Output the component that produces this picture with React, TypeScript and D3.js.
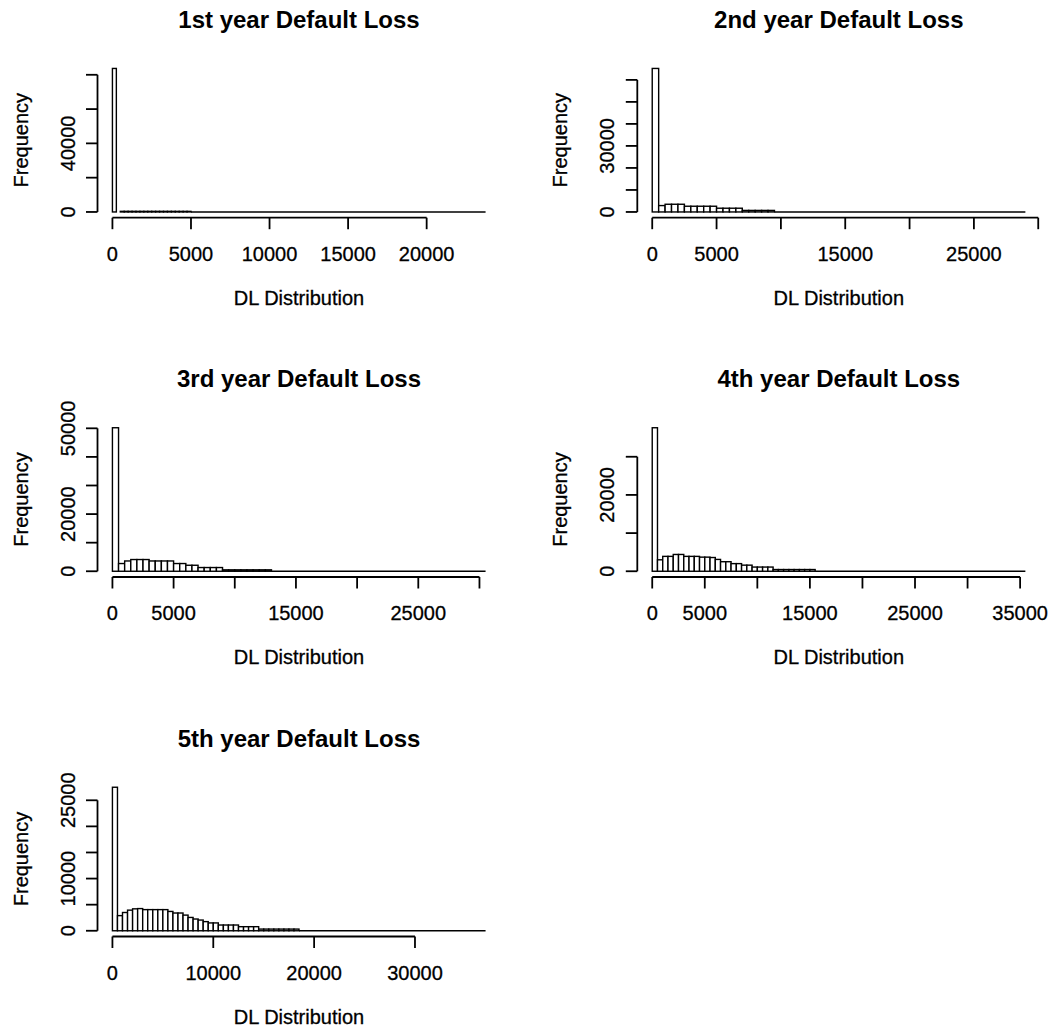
import React from "react";
import * as d3 from "d3";

// ---------- data ----------
const titles = [
  "1st year Default Loss",
  "2nd year Default Loss",
  "3rd year Default Loss",
  "4th year Default Loss",
  "5th year Default Loss",
];

const binWidths = [250, 500, 500, 500, 500];
// upper end of the histogram range (last break)
const rangeMax = [23750, 29000, 30500, 35500, 37000];

// counts per bin starting at 0 (bins beyond the list are empty)
const counts1 = [
  83700, 0, 360, 360, 360, 360, 350, 350, 350, 350, 350, 350, 350, 350, 350, 350,
  340, 340, 340, 340,
];
const counts2 = [
  65200, 2900, 3500, 3500, 3500, 2600, 2600, 2600, 2600, 2600, 1700, 1700, 1700,
  1700, 700, 700, 700, 700, 700,
];
const counts3 = [
  50200, 2700, 3600, 4100, 4100, 4100, 3600, 3600, 3600, 3600, 2700, 2700, 2100,
  2100, 1300, 1300, 1300, 1300, 500, 500, 500, 500, 500, 500, 500, 500,
];
const counts4 = [
  37600, 3000, 3900, 3900, 4400, 4400, 3900, 3900, 3900, 3700, 3700, 3600, 3100,
  2500, 2500, 2000, 2000, 1600, 1600, 1100, 1100, 1100, 1100, 450, 450, 450, 450,
  450, 450, 450, 450,
];
const counts5 = [
  27500, 2900, 3500, 3950, 4200, 4250, 4050, 4050, 4050, 4050, 4050, 3700, 3400,
  3400, 3000, 2550, 2250, 2050, 1750, 1500, 1500, 1100, 1100, 1100, 1100, 780,
  780, 780, 780, 320, 320, 320, 320, 320, 320, 320, 320,
];
const allCounts = [counts1, counts2, counts3, counts4, counts5];

const xTicks = [
  [0, 5000, 10000, 15000, 20000],
  [0, 5000, 10000, 15000, 20000, 25000, 30000],
  [0, 5000, 10000, 15000, 20000, 25000, 30000],
  [0, 5000, 10000, 15000, 20000, 25000, 30000, 35000],
  [0, 10000, 20000, 30000],
];
const xTickLabels = [
  ["0", "5000", "10000", "15000", "20000"],
  ["0", "5000", "", "15000", "", "25000", ""],
  ["0", "5000", "", "15000", "", "25000", ""],
  ["0", "5000", "", "15000", "", "25000", "", "35000"],
  ["0", "10000", "20000", "30000"],
];
const yTicks = [
  [0, 20000, 40000, 60000, 80000],
  [0, 10000, 20000, 30000, 40000, 50000, 60000],
  [0, 10000, 20000, 30000, 40000, 50000],
  [0, 10000, 20000, 30000],
  [0, 5000, 10000, 15000, 20000, 25000],
];
const yTickLabels = [
  ["0", "", "40000", "", ""],
  ["0", "", "", "30000", "", "", ""],
  ["0", "", "20000", "", "", "50000"],
  ["0", "", "20000", ""],
  ["0", "", "10000", "", "", "25000"],
];

const xLabel = "DL Distribution";
const yLabel = "Frequency";

// ---------- layout ----------
const W = 1052;
const H = 1028;
const colLeft = [97.5, 637.3];
const rowBottom = [217.7, 577, 936.5];
const plotW = 403;
const plotH = 155;
const tickLen = 11.5;
const FONT = "'Liberation Sans', Arial, Helvetica, sans-serif";

function Panel({ idx }: { idx: number }) {
  const col = idx % 2;
  const row = Math.floor(idx / 2);
  const left = colLeft[col];
  const bottom = rowBottom[row];
  const top = bottom - plotH;
  const right = left + plotW;

  const counts = allCounts[idx];
  const bw = binWidths[idx];
  const xmax = rangeMax[idx];
  const ymax = d3.max(counts) as number;

  const xs = d3
    .scaleLinear()
    .domain([-0.04 * xmax, 1.04 * xmax])
    .range([left, right]);
  const ys = d3
    .scaleLinear()
    .domain([-0.04 * ymax, 1.04 * ymax])
    .range([bottom, top]);

  const bins = counts.map((c, i) => ({ x0: i * bw, x1: (i + 1) * bw, c }));
  const lastBreak = counts.length * bw;

  const xt = xTicks[idx];
  const yt = yTicks[idx];
  const cx = (left + right) / 2;
  const cy = (top + bottom) / 2;

  return (
    <g>
      <text
        x={cx}
        y={top - 35}
        textAnchor="middle"
        fontFamily={FONT}
        fontWeight="bold"
        fontSize={24}
        fill="#000"
      >
        {titles[idx]}
      </text>

      {/* bars */}
      {bins.map((b, i) => (
        <rect
          key={i}
          x={xs(b.x0)}
          y={ys(b.c)}
          width={xs(b.x1) - xs(b.x0)}
          height={ys(0) - ys(b.c)}
          fill="#fff"
          stroke="#000"
          strokeWidth={1.4}
        />
      ))}
      {/* empty bins up to range max */}
      <line
        x1={xs(lastBreak)}
        x2={xs(xmax)}
        y1={ys(0)}
        y2={ys(0)}
        stroke="#000"
        strokeWidth={1.4}
      />

      {/* x axis */}
      <line
        x1={xs(xt[0])}
        x2={xs(xt[xt.length - 1])}
        y1={bottom}
        y2={bottom}
        stroke="#000"
        strokeWidth={1.8}
      />
      {xt.map((t, i) => (
        <g key={"xt" + i}>
          <line
            x1={xs(t)}
            x2={xs(t)}
            y1={bottom}
            y2={bottom + tickLen}
            stroke="#000"
            strokeWidth={1.8}
          />
          {xTickLabels[idx][i] !== "" && (
            <text
              x={xs(t)}
              y={bottom + 43}
              textAnchor="middle"
              fontFamily={FONT}
              fontSize={20}
              fill="#000"
              stroke="#000"
              strokeWidth={0.3}
            >
              {xTickLabels[idx][i]}
            </text>
          )}
        </g>
      ))}
      <text
        x={cx}
        y={bottom + 87}
        textAnchor="middle"
        fontFamily={FONT}
        fontSize={20}
        fill="#000"
        stroke="#000"
        strokeWidth={0.3}
      >
        {xLabel}
      </text>

      {/* y axis */}
      <line
        x1={left}
        x2={left}
        y1={ys(yt[0])}
        y2={ys(yt[yt.length - 1])}
        stroke="#000"
        strokeWidth={1.8}
      />
      {yt.map((t, i) => (
        <g key={"yt" + i}>
          <line
            x1={left - tickLen}
            x2={left}
            y1={ys(t)}
            y2={ys(t)}
            stroke="#000"
            strokeWidth={1.8}
          />
          {yTickLabels[idx][i] !== "" && (
            <text
              transform={`translate(${left - 23},${ys(t)}) rotate(-90)`}
              textAnchor="middle"
              fontFamily={FONT}
              fontSize={20}
              fill="#000"
              stroke="#000"
              strokeWidth={0.3}
            >
              {yTickLabels[idx][i]}
            </text>
          )}
        </g>
      ))}
      <text
        transform={`translate(${left - 70},${cy}) rotate(-90)`}
        textAnchor="middle"
        fontFamily={FONT}
        fontSize={20}
        fill="#000"
        stroke="#000"
        strokeWidth={0.3}
      >
        {yLabel}
      </text>
    </g>
  );
}

export default function App() {
  return (
    <svg
      width={W}
      height={H}
      viewBox={`0 0 ${W} ${H}`}
      style={{ position: "absolute", left: 0, top: 0, background: "#fff" }}
    >
      <rect x={0} y={0} width={W} height={H} fill="#fff" />
      {titles.map((_, i) => (
        <Panel key={i} idx={i} />
      ))}
    </svg>
  );
}
